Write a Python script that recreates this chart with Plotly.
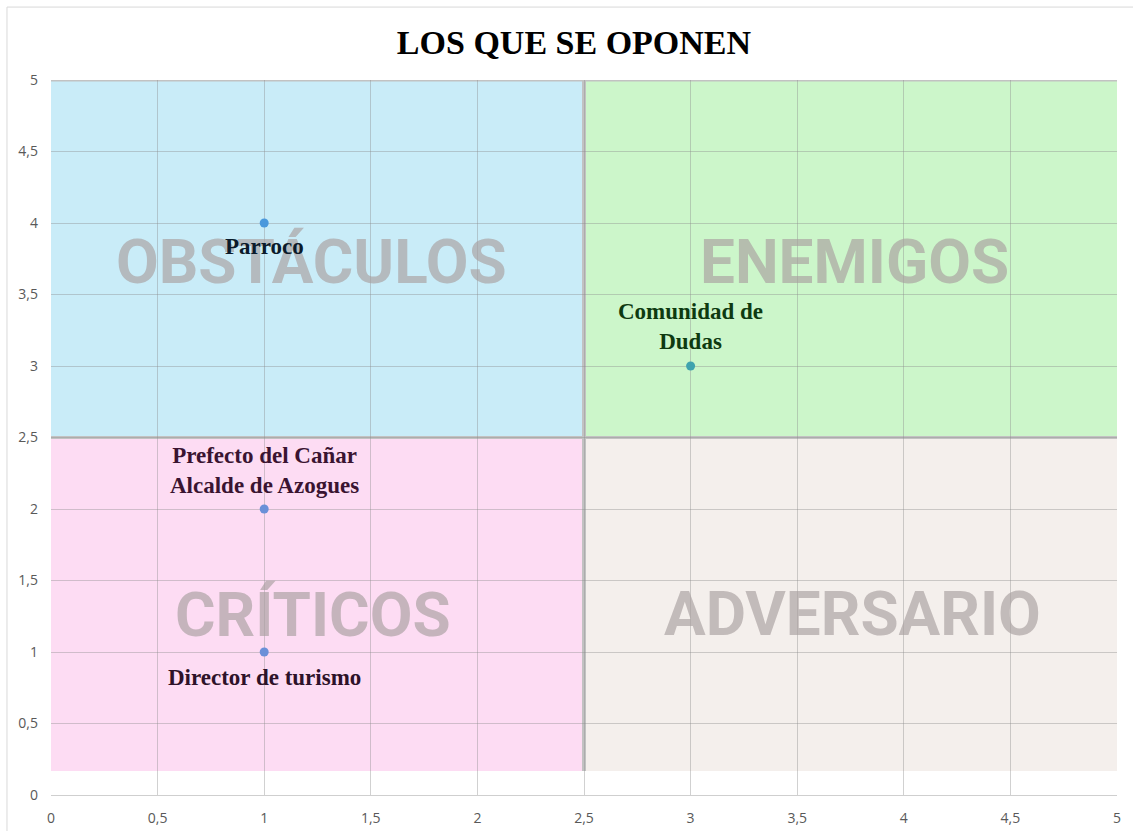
import plotly.graph_objects as go

# Actors and their position on the map
actor_names = ["Parroco", "Comunidad de<br>Dudas", "Prefecto del Cañar<br>Alcalde de Azogues", "Director de turismo"]
actor_x = [1, 3, 1, 1]
actor_y = [4, 3, 2, 1]
actor_colors = ["#4A98DC", "#3FA3AE", "#6A90D8", "#6A90D8"]
label_colors = ["#0B1B2B", "#0E3A10", "#3A1431", "#2E1229"]
label_dx = [0.0, 0.0, 0.0, 0.0]
label_dy = [-0.165, 0.275, 0.27, -0.175]

# Quadrant names and their centre positions
quadrant_names = ["OBSTÁCULOS", "ENEMIGOS", "CRÍTICOS", "ADVERSARIO"]
quadrant_x = [1.22, 3.77, 1.23, 3.76]
quadrant_y = [3.73, 3.73, 1.26, 1.27]
quadrant_fills = ["#C9ECF8", "#CCF6CA", "#FDDCF3", "#F4EFEC"]
quadrant_x0 = [0, 2.5, 0, 2.5]
quadrant_x1 = [2.5, 5.015, 2.5, 5.015]
quadrant_y0 = [2.5, 2.5, 0.168, 0.168]
quadrant_y1 = [5, 5, 2.5, 2.5]

tick_vals = [0, 0.5, 1, 1.5, 2, 2.5, 3, 3.5, 4, 4.5, 5]
tick_text = ["0", "0,5", "1", "1,5", "2", "2,5", "3", "3,5", "4", "4,5", "5"]

fig = go.Figure()

shapes = []
for x0, x1, y0, y1, c in zip(quadrant_x0, quadrant_x1, quadrant_y0, quadrant_y1, quadrant_fills):
    shapes.append(dict(type="rect", xref="x", yref="y", x0=x0, x1=x1, y0=y0, y1=y1,
                       fillcolor=c, line=dict(width=0), layer="below"))

border = "#C2C2C2"
shapes += [
    dict(type="line", xref="x", yref="y", x0=0, x1=5.02, y0=5, y1=5, line=dict(color=border, width=3), layer="below"),
    dict(type="line", xref="x", yref="y", x0=2.5, x1=2.5, y0=0.168, y1=5, line=dict(color=border, width=4), layer="below"),
    dict(type="line", xref="x", yref="y", x0=0, x1=5.02, y0=2.5, y1=2.5, line=dict(color=border, width=3), layer="below"),
    dict(type="line", xref="x", yref="y", x0=5.015, x1=5.015, y0=0.168, y1=5, line=dict(color=border, width=3), layer="below"),
    dict(type="rect", xref="paper", yref="paper", x0=-0.0413, x1=1.03, y0=-0.08, y1=1.102,
         line=dict(color="#D9D9D9", width=1), layer="below"),
]

annotations = []
for name, qx, qy in zip(quadrant_names, quadrant_x, quadrant_y):
    annotations.append(dict(x=qx, y=qy, xref="x", yref="y", text=name, showarrow=False,
                            font=dict(family="Roboto", size=62, weight="bold",
                                      color="rgba(168,160,160,0.66)")))

for name, x, y, dx, dy, lc in zip(actor_names, actor_x, actor_y, label_dx, label_dy, label_colors):
    annotations.append(dict(x=x + dx, y=y + dy, xref="x", yref="y", text="<b>" + name + "</b>",
                            showarrow=False,
                            font=dict(family="Liberation Serif", size=23, color=lc)))

fig.add_trace(go.Scatter(
    x=actor_x, y=actor_y, mode="markers",
    marker=dict(size=9, color=actor_colors),
    hoverinfo="skip", showlegend=False,
))

fig.update_layout(
    width=1133, height=831,
    margin=dict(l=51, r=16, t=80, b=36, autoexpand=False),
    paper_bgcolor="white", plot_bgcolor="white",
    title=dict(text="<b>LOS QUE SE OPONEN</b>", x=0.5066, xanchor="center", y=0.949, yanchor="middle",
               font=dict(family="Liberation Serif", size=34, color="black")),
    shapes=shapes, annotations=annotations,
    font=dict(family="Open Sans", size=14, color="#595959"),
)

fig.update_xaxes(range=[0, 5.0], tickvals=tick_vals, ticktext=tick_text,
                 showgrid=True, gridcolor="rgba(140,140,140,0.4)", gridwidth=1,
                 zeroline=False, showline=True, linecolor="#CFCFCF", automargin=False,
                 ticks="", ticklabelstandoff=10)
fig.update_yaxes(range=[0, 5.0], tickvals=tick_vals, ticktext=tick_text,
                 showgrid=True, gridcolor="rgba(140,140,140,0.4)", gridwidth=1,
                 zeroline=False, showline=False, automargin=False,
                 ticks="", ticklabelstandoff=12)

fig.write_html("out.html")
